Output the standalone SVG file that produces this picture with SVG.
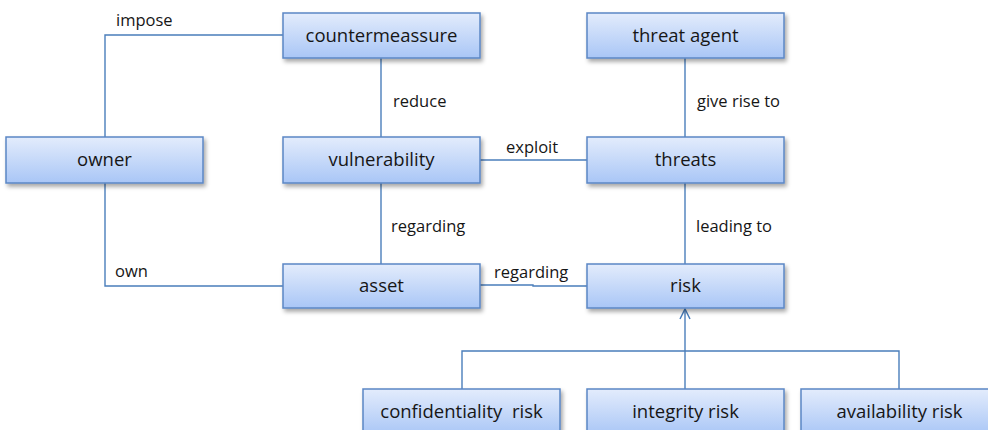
<svg xmlns="http://www.w3.org/2000/svg" width="988" height="430" viewBox="0 0 988 430">
  <defs>
    <linearGradient id="boxFill" x1="0" y1="0" x2="0" y2="1">
      <stop offset="0" stop-color="#e3ecfc"/>
      <stop offset="1" stop-color="#a9c6f6"/>
    </linearGradient>
    <filter id="shadow" x="-10%" y="-20%" width="130%" height="150%">
      <feDropShadow dx="2" dy="3" stdDeviation="2" flood-color="#000" flood-opacity="0.35"/>
    </filter>
    <marker id="openArrow" viewBox="0 0 12 12" refX="11" refY="6" markerWidth="12" markerHeight="12" markerUnits="userSpaceOnUse" orient="auto">
      <path d="M1,1 L11,6 L1,11" fill="none" stroke="#4a7ebb" stroke-width="1.5"/>
    </marker>
  </defs>
  <style>
    .box { fill: url(#boxFill); stroke: #5b87c5; stroke-width: 1.5; filter: url(#shadow); }
    .name { font-family: "Open Sans", "Liberation Sans", sans-serif; font-size: 18.5px; fill: #161616; text-anchor: middle; white-space: pre; }
    .wire { fill: none; stroke: #4a7ebb; stroke-width: 1.4; }
    .tag { font-family: "Open Sans", "Liberation Sans", sans-serif; font-size: 16.5px; fill: #161616; }
  </style>
  <rect width="988" height="430" fill="#ffffff"/>

  <g id="connectors">
    <path class="wire" d="M105,137 V35 H283"/>
    <path class="wire" d="M105,183 V286 H283"/>
    <path class="wire" d="M381,58 V137"/>
    <path class="wire" d="M381,183 V264"/>
    <path class="wire" d="M480,160 H587"/>
    <path class="wire" d="M685,58 V137"/>
    <path class="wire" d="M685,183 V264"/>
    <path class="wire" d="M480,285 H533 V286 H587"/>
    <path class="wire" d="M685,351 V309" marker-end="url(#openArrow)"/>
    <path class="wire" d="M462,389 V351 H899 V389"/>
    <path class="wire" d="M685,351 V389"/>
    <text class="tag" x="116" y="26">impose</text>
    <text class="tag" x="115" y="277">own</text>
    <text class="tag" x="393" y="107">reduce</text>
    <text class="tag" x="391" y="232">regarding</text>
    <text class="tag" x="506" y="153">exploit</text>
    <text class="tag" x="494" y="278">regarding</text>
    <text class="tag" x="697" y="107">give rise to</text>
    <text class="tag" x="696" y="232">leading to</text>
  </g>

  <g id="countermeassure">
    <rect class="box" x="283" y="13" width="197" height="45"/>
    <text class="name" x="381.5" y="42">countermeassure</text>
  </g>
  <g id="threat-agent">
    <rect class="box" x="587" y="13" width="197" height="45"/>
    <text class="name" x="685.5" y="42">threat agent</text>
  </g>
  <g id="owner">
    <rect class="box" x="6" y="137" width="197" height="46"/>
    <text class="name" x="104.5" y="166">owner</text>
  </g>
  <g id="vulnerability">
    <rect class="box" x="283" y="137" width="197" height="46"/>
    <text class="name" x="381.5" y="166">vulnerability</text>
  </g>
  <g id="threats">
    <rect class="box" x="587" y="137" width="197" height="46"/>
    <text class="name" x="685.5" y="166">threats</text>
  </g>
  <g id="asset">
    <rect class="box" x="283" y="264" width="197" height="44"/>
    <text class="name" x="381.5" y="292">asset</text>
  </g>
  <g id="risk">
    <rect class="box" x="587" y="264" width="197" height="44"/>
    <text class="name" x="685.5" y="292">risk</text>
  </g>
  <g id="confidentiality-risk">
    <rect class="box" x="363" y="389" width="197" height="46"/>
    <text class="name" x="461.5" y="418" xml:space="preserve">confidentiality  risk</text>
  </g>
  <g id="integrity-risk">
    <rect class="box" x="587" y="389" width="197" height="46"/>
    <text class="name" x="685.5" y="418">integrity risk</text>
  </g>
  <g id="availability-risk">
    <rect class="box" x="801" y="389" width="197" height="46"/>
    <text class="name" x="899.5" y="418">availability risk</text>
  </g>
</svg>
